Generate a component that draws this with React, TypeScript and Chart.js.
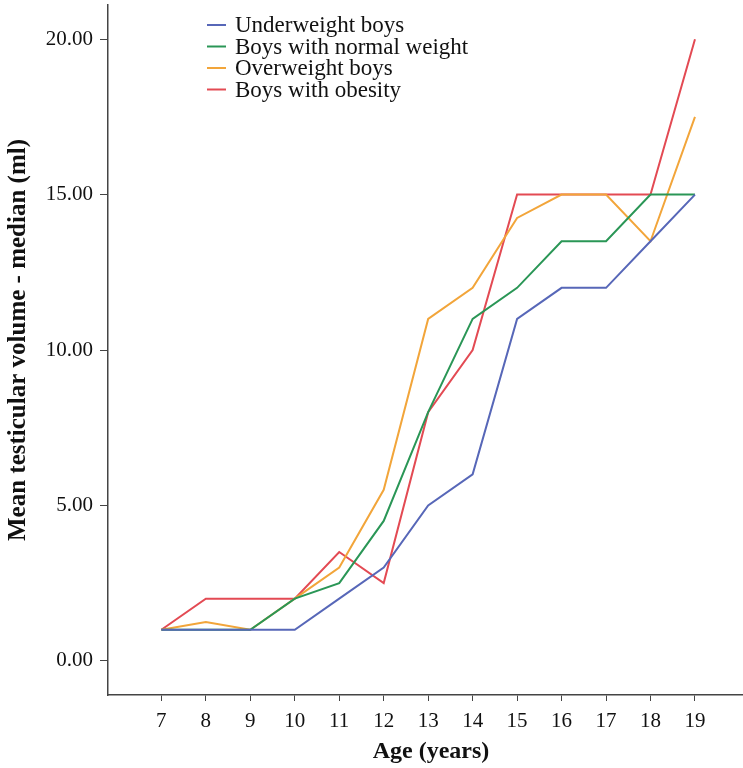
import React, { useEffect, useRef } from "react";
import { Chart, registerables } from "chart.js";

Chart.register(...registerables);

const ages = [7, 8, 9, 10, 11, 12, 13, 14, 15, 16, 17, 18, 19];
const underweight = [1, 1, 1, 1, 2, 3, 5, 6, 11, 12, 12, 13.5, 15];
const normalWeight = [1, 1, 1, 2, 2.5, 4.5, 8, 11, 12, 13.5, 13.5, 15, 15];
const overweight = [1, 1.25, 1, 2, 3, 5.5, 11, 12, 14.25, 15, 15, 13.5, 17.5];
const obesity = [1, 2, 2, 2, 3.5, 2.5, 8, 10, 15, 15, 15, 15, 20];
const yTicks = [0, 5, 10, 15, 20];

const seriesLabels = [
  "Underweight boys",
  "Boys with normal weight",
  "Overweight boys",
  "Boys with obesity",
];
const seriesColors = ["#5767b8", "#2a9656", "#f2a53a", "#e34a53"];
const xTitle = "Age (years)";
const yTitle = "Mean testicular volume - median (ml)";

const SERIF = '"Liberation Serif", "Times New Roman", serif';

const decorPlugin = {
  id: "decor",
  afterDraw(chart: any) {
    const ctx = chart.ctx;
    ctx.save();
    // legend
    ctx.font = `23px ${SERIF}`;
    ctx.textBaseline = "middle";
    ctx.textAlign = "left";
    chart.data.datasets.forEach((ds: any, i: number) => {
      const y = 25 + i * 21.5;
      ctx.strokeStyle = ds.borderColor;
      ctx.lineWidth = 2;
      ctx.beginPath();
      ctx.moveTo(207, y);
      ctx.lineTo(226, y);
      ctx.stroke();
      ctx.fillStyle = "#111";
      ctx.fillText(ds.label, 235, y + 1);
    });
    // axis titles
    ctx.fillStyle = "#111";
    ctx.font = `bold 24px ${SERIF}`;
    ctx.textAlign = "center";
    ctx.textBaseline = "middle";
    ctx.fillText(xTitle, 431, 752);
    ctx.translate(19, 340);
    ctx.rotate(-Math.PI / 2);
    ctx.font = `bold 25px ${SERIF}`;
    ctx.fillText(yTitle, 0, 0);
    ctx.restore();
  },
};

export default function App() {
  const ref = useRef<HTMLCanvasElement>(null);
  useEffect(() => {
    if (!ref.current) return;
    const seriesData = [underweight, normalWeight, overweight, obesity];
    const chart = new Chart(ref.current, {
      type: "line",
      data: {
        datasets: seriesData.map((vals, i) => ({
          label: seriesLabels[i],
          data: ages.map((a, j) => ({ x: a, y: vals[j] })),
          borderColor: seriesColors[i],
          backgroundColor: seriesColors[i],
          borderWidth: 2,
          pointRadius: 0,
          tension: 0,
          fill: false,
        })),
      },
      options: {
        animation: false,
        responsive: false,
        maintainAspectRatio: false,
        layout: { padding: { top: 5, right: 0, left: 0, bottom: 0 } },
        plugins: {
          legend: { display: false },
          tooltip: { enabled: false },
        },
        scales: {
          x: {
            type: "linear",
            min: 5.8,
            max: 20.08,
            afterBuildTicks: (scale: any) => {
              scale.ticks = ages.map((v) => ({ value: v }));
            },
            afterFit: (scale: any) => {
              scale.height = 73;
              scale.paddingLeft = 0;
              scale.paddingRight = 0;
            },
            border: { display: true, color: "#444", width: 1.5 },
            grid: {
              display: true,
              drawOnChartArea: false,
              drawTicks: true,
              tickLength: 6,
              color: "#444",
            },
            ticks: {
              autoSkip: false,
              maxRotation: 0,
              padding: 8,
              color: "#111",
              font: { family: SERIF, size: 21 },
              callback: (v: any) => String(v),
            },
          },
          y: {
            type: "linear",
            min: -1.1,
            max: 21.1,
            afterBuildTicks: (scale: any) => {
              scale.ticks = yTicks.map((v) => ({ value: v }));
            },
            afterFit: (scale: any) => {
              scale.width = 108;
              scale.paddingTop = 0;
              scale.paddingBottom = 0;
            },
            border: { display: true, color: "#444", width: 1.5 },
            grid: {
              display: true,
              drawOnChartArea: false,
              drawTicks: true,
              tickLength: 8,
              color: "#444",
            },
            ticks: {
              padding: 7,
              color: "#111",
              font: { family: SERIF, size: 21 },
              callback: (v: any) => Number(v).toFixed(2),
            },
          },
        },
      },
      plugins: [decorPlugin],
    });
    return () => chart.destroy();
  }, []);
  return (
    <div style={{ position: "fixed", left: 0, top: 0, width: 743, height: 768, background: "#fff" }}>
      <canvas ref={ref} width={743} height={768} style={{ width: 743, height: 768, display: "block" }} />
    </div>
  );
}
